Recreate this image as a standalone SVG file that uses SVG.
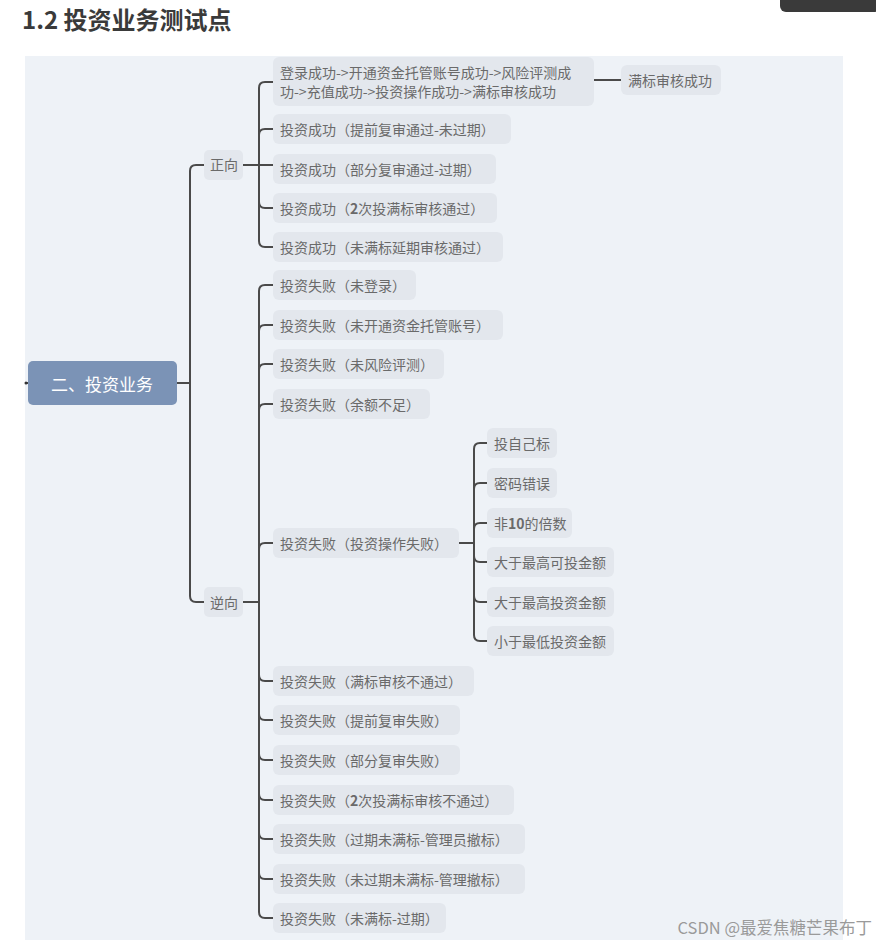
<svg xmlns="http://www.w3.org/2000/svg" width="876" height="942" viewBox="0 0 876 942">
<style>
.n{fill:#e3e7ed}
.t{font-family:"Noto Sans CJK SC","Noto Sans",sans-serif;font-size:14px;fill:#6a6a6a;dominant-baseline:central}
.c{fill:none;stroke:#4a4a4a;stroke-width:2}
</style>
<rect x="0" y="0" width="876" height="942" fill="#ffffff"/>
<text x="22" y="29" font-family="Noto Sans CJK SC,sans-serif" font-size="24" font-weight="bold" fill="#3a3a3a">1.2 投资业务测试点</text>
<rect x="780" y="-8" width="100" height="20" rx="6" fill="#3a3a3a"/>
<rect x="25" y="56" width="818" height="884" fill="#eef2f7"/>
<g id="connectors" class="c">
<path d="M26,383 H28"/>
<path d="M177,383 H190"/>
<path d="M190,383 V171 Q190,165 196,165 H204"/>
<path d="M190,383 V596 Q190,602 196,602 H204"/>
<path d="M243,165 H259"/>
<path d="M259,165 V88 Q259,82 265,82 H273"/>
<path d="M259,165 V135 Q259,129 265,129 H273"/>
<path d="M259,165 H273"/>
<path d="M259,165 V202 Q259,208 265,208 H273"/>
<path d="M259,165 V241 Q259,247 265,247 H273"/>
<path d="M594,80 H621"/>
<path d="M243,602 H259"/>
<path d="M259,602 V291 Q259,285 265,285 H273"/>
<path d="M259,602 V331 Q259,325 265,325 H273"/>
<path d="M259,602 V370 Q259,364 265,364 H273"/>
<path d="M259,602 V410 Q259,404 265,404 H273"/>
<path d="M259,602 V549 Q259,543 265,543 H273"/>
<path d="M259,602 V675 Q259,681 265,681 H273"/>
<path d="M259,602 V714 Q259,720 265,720 H273"/>
<path d="M259,602 V754 Q259,760 265,760 H273"/>
<path d="M259,602 V794 Q259,800 265,800 H273"/>
<path d="M259,602 V833 Q259,839 265,839 H273"/>
<path d="M259,602 V873 Q259,879 265,879 H273"/>
<path d="M259,602 V912 Q259,918 265,918 H273"/>
<path d="M459,543 H474"/>
<path d="M474,543 V449 Q474,443 480,443 H487"/>
<path d="M474,543 V489 Q474,483 480,483 H487"/>
<path d="M474,543 V529 Q474,523 480,523 H487"/>
<path d="M474,543 V556 Q474,562 480,562 H487"/>
<path d="M474,543 V596 Q474,602 480,602 H487"/>
<path d="M474,543 V635 Q474,641 480,641 H487"/>
</g>
<circle cx="26" cy="383" r="1.5" fill="#333"/>
<g id="root"><rect x="28" y="361" width="149" height="44" rx="5" fill="#7b93b6"/><text x="102" y="383" text-anchor="middle" font-family="Noto Sans CJK SC,sans-serif" font-size="17" fill="#fff" dominant-baseline="central">二、投资业务</text></g>
<g id="zx"><rect class="n" x="204" y="150" width="39" height="30" rx="5"/><text class="t" x="210" y="164">正向</text></g>
<g id="nx"><rect class="n" x="204" y="587" width="39" height="30" rx="5"/><text class="t" x="210" y="602">逆向</text></g>
<g id="z1"><rect class="n" x="273" y="57" width="321" height="49" rx="6"/><text class="t" x="280" y="71.5">登录成功-&gt;开通资金托管账号成功-&gt;风险评测成</text><text class="t" x="280" y="91">功-&gt;充值成功-&gt;投资操作成功-&gt;满标审核成功</text></g>
<g id="z1a"><rect class="n" x="621" y="65" width="100" height="30" rx="6"/><text class="t" x="628" y="80">满标审核成功</text></g>
<g id="z2"><rect class="n" x="273" y="114" width="238" height="30" rx="6"/><text class="t" x="280" y="129">投资成功（提前复审通过-未过期）</text></g>
<g id="z3"><rect class="n" x="273" y="154" width="223" height="30" rx="6"/><text class="t" x="280" y="169">投资成功（部分复审通过-过期）</text></g>
<g id="z4"><rect class="n" x="273" y="193" width="224" height="30" rx="6"/><text class="t" x="280" y="208">投资成功（<tspan font-weight="bold">2</tspan>次投满标审核通过）</text></g>
<g id="z5"><rect class="n" x="273" y="232" width="230" height="30" rx="6"/><text class="t" x="280" y="247">投资成功（未满标延期审核通过）</text></g>
<g id="n1"><rect class="n" x="273" y="270" width="143" height="30" rx="6"/><text class="t" x="280" y="285">投资失败（未登录）</text></g>
<g id="n2"><rect class="n" x="273" y="310" width="230" height="30" rx="6"/><text class="t" x="280" y="325">投资失败（未开通资金托管账号）</text></g>
<g id="n3"><rect class="n" x="273" y="349" width="171" height="30" rx="6"/><text class="t" x="280" y="364">投资失败（未风险评测）</text></g>
<g id="n4"><rect class="n" x="273" y="389" width="157" height="30" rx="6"/><text class="t" x="280" y="404">投资失败（余额不足）</text></g>
<g id="n5"><rect class="n" x="273" y="528" width="186" height="30" rx="6"/><text class="t" x="280" y="543">投资失败（投资操作失败）</text></g>
<g id="s1"><rect class="n" x="487" y="428" width="70" height="30" rx="6"/><text class="t" x="494" y="443">投自己标</text></g>
<g id="s2"><rect class="n" x="487" y="468" width="70" height="30" rx="6"/><text class="t" x="494" y="483">密码错误</text></g>
<g id="s3"><rect class="n" x="487" y="508" width="85" height="30" rx="6"/><text class="t" x="494" y="523">非<tspan font-weight="bold">10</tspan>的倍数</text></g>
<g id="s4"><rect class="n" x="487" y="547" width="127" height="30" rx="6"/><text class="t" x="494" y="562">大于最高可投金额</text></g>
<g id="s5"><rect class="n" x="487" y="587" width="127" height="30" rx="6"/><text class="t" x="494" y="602">大于最高投资金额</text></g>
<g id="s6"><rect class="n" x="487" y="626" width="127" height="30" rx="6"/><text class="t" x="494" y="641">小于最低投资金额</text></g>
<g id="n6"><rect class="n" x="273" y="666" width="201" height="30" rx="6"/><text class="t" x="280" y="681">投资失败（满标审核不通过）</text></g>
<g id="n7"><rect class="n" x="273" y="705" width="187" height="30" rx="6"/><text class="t" x="280" y="720">投资失败（提前复审失败）</text></g>
<g id="n8"><rect class="n" x="273" y="745" width="187" height="30" rx="6"/><text class="t" x="280" y="760">投资失败（部分复审失败）</text></g>
<g id="n9"><rect class="n" x="273" y="785" width="241" height="30" rx="6"/><text class="t" x="280" y="800">投资失败（<tspan font-weight="bold">2</tspan>次投满标审核不通过）</text></g>
<g id="n10"><rect class="n" x="273" y="824" width="252" height="30" rx="6"/><text class="t" x="280" y="839">投资失败（过期未满标-管理员撤标）</text></g>
<g id="n11"><rect class="n" x="273" y="864" width="252" height="30" rx="6"/><text class="t" x="280" y="879">投资失败（未过期未满标-管理撤标）</text></g>
<g id="n12"><rect class="n" x="273" y="903" width="173" height="30" rx="6"/><text class="t" x="280" y="918">投资失败（未满标-过期）</text></g>
<text x="872" y="927" text-anchor="end" font-family="Noto Sans CJK SC,sans-serif" font-size="16.5" fill="#9a9a9a" dominant-baseline="central">CSDN @最爱焦糖芒果布丁</text>
</svg>
